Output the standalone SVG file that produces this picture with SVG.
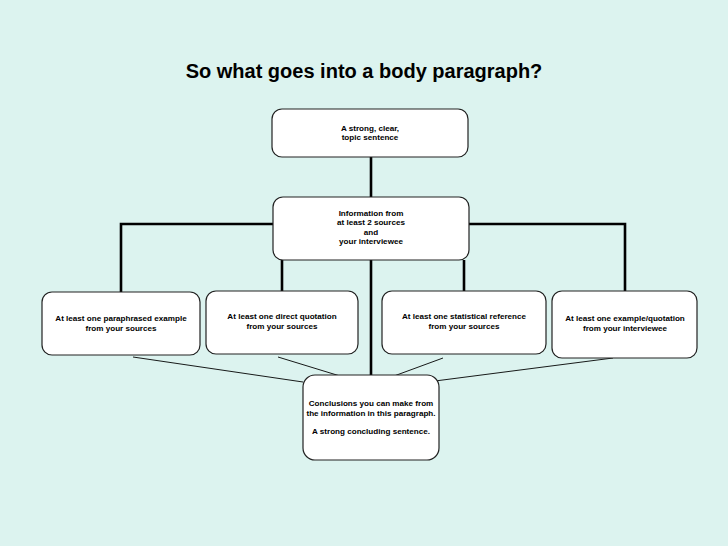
<svg xmlns="http://www.w3.org/2000/svg" width="728" height="546" viewBox="0 0 728 546">
<style>
.box{fill:#fff;stroke:#222;stroke-width:1.2}
.t{font-family:"Liberation Sans",Arial,sans-serif;font-weight:bold;font-size:8.1px;fill:#000;text-anchor:middle}
.thick{stroke:#000;stroke-width:2.6;fill:none}
.thin{stroke:#000;stroke-width:0.9;fill:none}
</style>
<rect width="728" height="546" fill="#dcf3ef"/>
<text x="364" y="78" font-family="Liberation Sans,Arial,sans-serif" font-weight="bold" font-size="20" text-anchor="middle">So what goes into a body paragraph?</text>
<g id="connectors">
<path class="thick" d="M371 157V197"/>
<path class="thick" d="M273 224H121V292"/>
<path class="thick" d="M469 224H625V291"/>
<path class="thick" d="M282 260V291"/>
<path class="thick" d="M464 260V291"/>
<path class="thick" d="M371 260V375"/>
<path class="thin" d="M133 357L303 382"/>
<path class="thin" d="M278 357L340 376"/>
<path class="thin" d="M443 358L394 376"/>
<path class="thin" d="M613 358L435 381"/>
</g>
<g id="topic">
<rect class="box" x="272" y="109" width="196" height="48" rx="10"/>
<text class="t" x="370" y="131">A strong, clear,</text>
<text class="t" x="370" y="140">topic sentence</text>
</g>
<g id="info">
<rect class="box" x="273" y="197" width="196" height="63" rx="10"/>
<text class="t" x="371" y="216">Information from</text>
<text class="t" x="371" y="225">at least 2 sources</text>
<text class="t" x="371" y="235">and</text>
<text class="t" x="371" y="244">your interviewee</text>
</g>
<g id="paraphrased">
<rect class="box" x="42" y="292" width="158" height="63" rx="10"/>
<text class="t" x="121" y="321">At least one paraphrased example</text>
<text class="t" x="121" y="331">from your sources</text>
</g>
<g id="quotation">
<rect class="box" x="206" y="291" width="152" height="63" rx="10"/>
<text class="t" x="282" y="319">At least one direct quotation</text>
<text class="t" x="282" y="329">from your sources</text>
</g>
<g id="statistical">
<rect class="box" x="382" y="291" width="164" height="63" rx="10"/>
<text class="t" x="464" y="319">At least one statistical reference</text>
<text class="t" x="464" y="329">from your sources</text>
</g>
<g id="interviewee">
<rect class="box" x="552" y="291" width="145" height="67" rx="10"/>
<text class="t" x="625" y="321">At least one example/quotation</text>
<text class="t" x="625" y="331">from your interviewee</text>
</g>
<g id="conclusions">
<rect class="box" x="303" y="375" width="136" height="85" rx="12"/>
<text class="t" x="371" y="406">Conclusions you can make from</text>
<text class="t" x="371" y="416">the information in this paragraph.</text>
<text class="t" x="371" y="434">A strong concluding sentence.</text>
</g>
</svg>
